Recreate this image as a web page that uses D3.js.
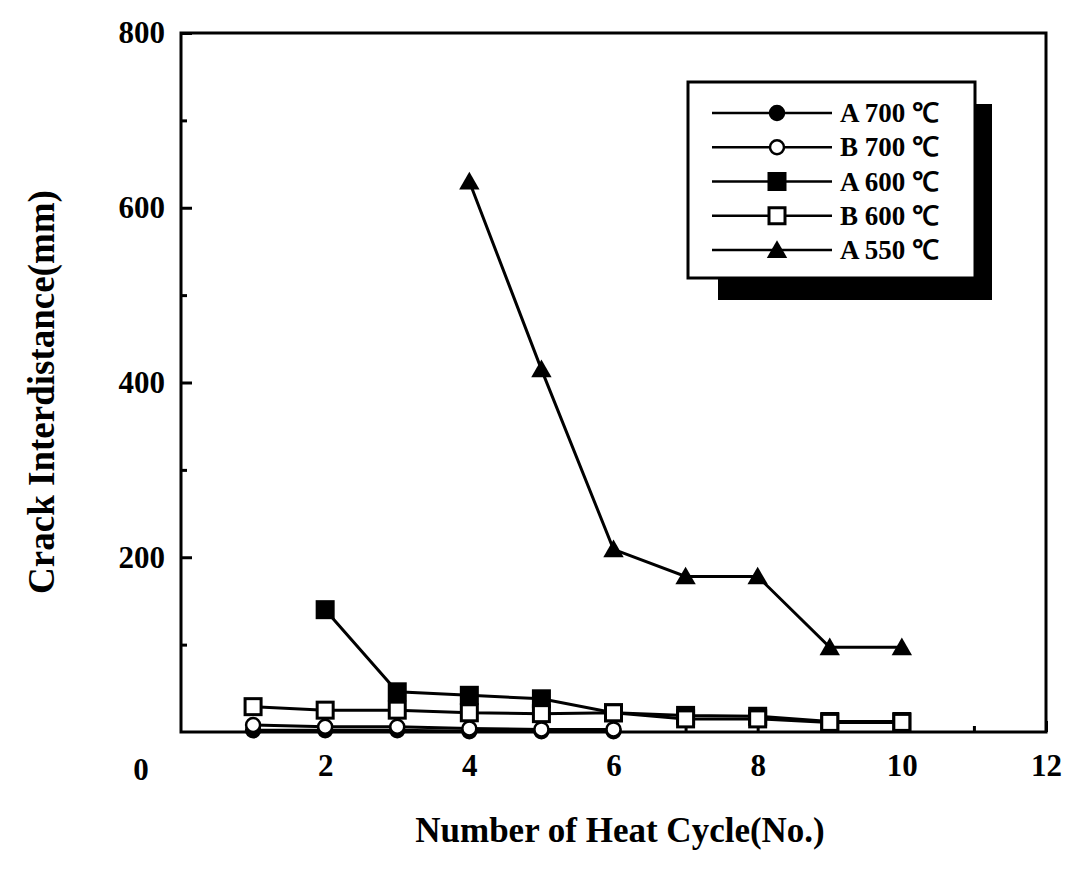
<!DOCTYPE html>
<html>
<head>
<meta charset="utf-8">
<script src="https://cdn.jsdelivr.net/npm/d3@7"></script>
<style>
  body { margin: 0; background: #fff; }
  svg { display: block; }
  text { font-family: "Liberation Serif", "Times New Roman", serif; font-weight: bold; fill: #000; }
</style>
</head>
<body>
<svg id="chart" width="1072" height="874"></svg>
<script>
// heat cycle numbers
var cycles = [1, 2, 3, 4, 5, 6, 7, 8, 9, 10];

// crack interdistance per cycle (null = not measured)
var a700 = [2, 2, 2, 1, 1, 1, null, null, null, null];
var b700 = [8, 6, 6, 4, 3, 3, null, null, null, null];
var a600 = [null, 140, 46, 42, 38, 22, 19, 18, 12, 12];
var b600 = [29, 25, 25, 22, 21, 22, 15, 15, 11, 11];
var a550 = [null, null, null, 630, 415, 209, 178, 178, 97, 97];

var seriesNames = ["A 700 \u2103", "B 700 \u2103", "A 600 \u2103", "B 600 \u2103", "A 550 \u2103"];
var seriesMarkers = ["circleFilled", "circleOpen", "squareFilled", "squareOpen", "triangle"];
var seriesValues = [a700, b700, a600, b600, a550];

var xTicks = [0, 2, 4, 6, 8, 10, 12];
var yTicks = [200, 400, 600, 800];

var svg = d3.select("#chart");
var plot = { left: 181, right: 1046, top: 33, bottom: 732 };

var x = d3.scaleLinear().domain([0, 12]).range([plot.left, plot.right]);
var y = d3.scaleLinear().domain([0, 800]).range([plot.bottom, plot.top]);

// frame
svg.append("rect")
    .attr("x", plot.left)
    .attr("y", plot.top)
    .attr("width", plot.right - plot.left)
    .attr("height", plot.bottom - plot.top)
    .attr("fill", "none")
    .attr("stroke", "#000")
    .attr("stroke-width", 3);

// left axis, ticks inside
var yAxis = d3.axisLeft(y).tickValues(yTicks).tickSize(-11).tickPadding(16).tickFormat(d3.format("d"));
svg.append("g")
    .attr("transform", `translate(${plot.left},0)`)
    .call(yAxis)
    .call(g => g.select(".domain").remove())
    .call(g => g.selectAll("line").attr("stroke-width", 3))
    .call(g => g.selectAll("text").attr("font-size", 31).attr("font-family", "Liberation Serif").attr("font-weight", "bold"));

var yMinor = d3.axisLeft(y).tickValues([100, 300, 500, 700]).tickSize(-6).tickFormat("");
svg.append("g")
    .attr("transform", `translate(${plot.left},0)`)
    .call(yMinor)
    .call(g => g.select(".domain").remove())
    .call(g => g.selectAll("line").attr("stroke-width", 3));

// bottom axis, ticks inside
var xAxis = d3.axisBottom(x).tickValues(xTicks.filter(d => d > 0)).tickSize(-11).tickPadding(22).tickFormat(d3.format("d"));
svg.append("g")
    .attr("transform", `translate(0,${plot.bottom})`)
    .call(xAxis)
    .call(g => g.select(".domain").remove())
    .call(g => g.selectAll("line").attr("stroke-width", 3))
    .call(g => g.selectAll("text").attr("font-size", 31).attr("font-family", "Liberation Serif").attr("font-weight", "bold"));

var xMinor = d3.axisBottom(x).tickValues([1, 3, 5, 7, 9, 11]).tickSize(-6).tickFormat("");
svg.append("g")
    .attr("transform", `translate(0,${plot.bottom})`)
    .call(xMinor)
    .call(g => g.select(".domain").remove())
    .call(g => g.selectAll("line").attr("stroke-width", 3));

// shared origin label
svg.append("text")
    .attr("x", x(0) - 40)
    .attr("y", plot.bottom + 48)
    .attr("text-anchor", "middle")
    .attr("font-size", 31)
    .text(xTicks[0]);

// axis titles
svg.append("text")
    .attr("x", 620)
    .attr("y", 842)
    .attr("text-anchor", "middle")
    .attr("font-size", 35)
    .text("Number of Heat Cycle(No.)");

svg.append("text")
    .attr("transform", "translate(54,392) rotate(-90)")
    .attr("text-anchor", "middle")
    .attr("font-size", 37)
    .text("Crack Interdistance(mm)");

// marker drawing
function drawMarker(g, type, cx, cy) {
    if (type == "circleFilled" || type == "circleOpen") {
        g.append("circle")
            .attr("cx", cx).attr("cy", cy).attr("r", 7)
            .attr("fill", type == "circleFilled" ? "#000" : "#fff")
            .attr("stroke", "#000").attr("stroke-width", 2.5);
    } else if (type == "squareFilled" || type == "squareOpen") {
        g.append("rect")
            .attr("x", cx - 8).attr("y", cy - 8).attr("width", 16).attr("height", 16)
            .attr("fill", type == "squareFilled" ? "#000" : "#fff")
            .attr("stroke", "#000").attr("stroke-width", 3);
    } else {
        g.append("path")
            .attr("d", d3.symbol().type(d3.symbolTriangle).size(180)())
            .attr("transform", `translate(${cx},${cy + 2})`)
            .attr("fill", "#000");
    }
}

var line = d3.line()
    .defined(d => d.v != null)
    .x(d => x(d.c))
    .y(d => y(d.v));

seriesValues.forEach(function(vals, i) {
    var pts = cycles.map((c, j) => ({ c: c, v: vals[j] }));
    var g = svg.append("g");
    g.append("path")
        .datum(pts)
        .attr("d", line)
        .attr("fill", "none")
        .attr("stroke", "#000")
        .attr("stroke-width", 3);
    pts.filter(d => d.v != null).forEach(function(d) {
        drawMarker(g, seriesMarkers[i], x(d.c), y(d.v));
    });
});

// legend with drop shadow
var leg = { x: 688, y: 82, w: 287, h: 196 };
svg.append("rect")
    .attr("x", leg.x + 30).attr("y", leg.y + 22)
    .attr("width", leg.w - 13).attr("height", leg.h)
    .attr("fill", "#000");
svg.append("rect")
    .attr("x", leg.x).attr("y", leg.y)
    .attr("width", leg.w).attr("height", leg.h)
    .attr("fill", "#fff")
    .attr("stroke", "#000")
    .attr("stroke-width", 3);

var rowY = d3.scalePoint().domain(seriesNames).range([leg.y + 31, leg.y + 168]);
seriesNames.forEach(function(name, i) {
    var g = svg.append("g");
    var ry = rowY(name);
    g.append("line")
        .attr("x1", 712).attr("x2", 832)
        .attr("y1", ry).attr("y2", ry)
        .attr("stroke", "#000").attr("stroke-width", 2.5);
    drawMarker(g, seriesMarkers[i], 777, ry);
    g.append("text")
        .attr("x", 840)
        .attr("y", ry + 9)
        .attr("font-size", 27)
        .text(name);
});
</script>
</body>
</html>
